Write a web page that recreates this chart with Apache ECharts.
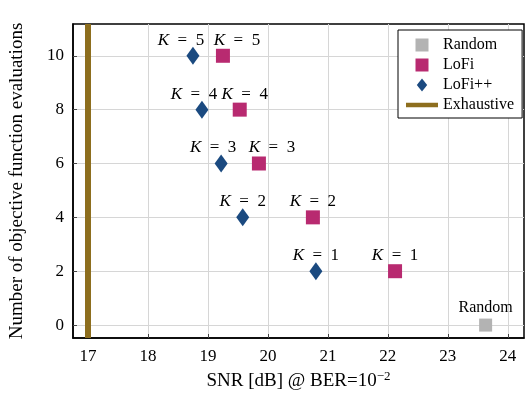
<!DOCTYPE html>
<html><head><meta charset="utf-8">
<script src="https://cdn.jsdelivr.net/npm/echarts@6/dist/echarts.min.js"></script>
<style>html,body{margin:0;padding:0;background:#fff}#c{width:532px;height:396px}</style>
</head><body><div id="c"></div>
<script>
// ---- data ----
const kValues = [1, 2, 3, 4, 5];
const evaluations = [2, 4, 6, 8, 10];
const lofiSNR = [22.12, 20.75, 19.85, 19.53, 19.25];
const lofippSNR = [20.8, 19.58, 19.22, 18.9, 18.75];
const randomSNR = [23.63];
const randomEvals = [0];
const exhaustiveSNR = 17;
const xTicks = [17, 18, 19, 20, 21, 22, 23, 24];
const yTicks = [0, 2, 4, 6, 8, 10];

// ---- label layout (horizontal nudges) ----
const lofiLabelDx = [0, 0, 13, 5, 14];
const lofippLabelDx = [0, 0, -8, -8, -12];

const FONT = 'Liberation Serif';
const C_LOFI = '#b82a70', C_LOFIPP = '#1b4a80', C_RAND = '#b3b3b3', C_EXH = '#8d6e1e';

const kRich = {
  k: { fontFamily: FONT, fontStyle: 'italic', fontSize: 17, color: '#000' },
  t: { fontFamily: FONT, fontSize: 17, color: '#000' }
};
function kLabel(p) { return '{k|K}{t|\u2002=\u2002' + p.value[2] + '}'; }

function build(xs, dxs) {
  return xs.map((x, i) => ({ value: [x, evaluations[i], kValues[i]], label: { offset: [dxs[i], 2] } }));
}

const chart = echarts.init(document.getElementById('c'), null, { renderer: 'canvas' });
chart.setOption({
  animation: false,
  backgroundColor: '#fff',
  grid: { left: 73, right: 8, top: 24, bottom: 55, show: true, borderColor: '#000', borderWidth: 1.5, backgroundColor: 'transparent' },
  legend: {
    orient: 'vertical', left: 398, top: 30,
    padding: [7, 8, 5, 8], itemWidth: 32, itemHeight: 13, itemGap: 4,
    borderColor: '#000', borderWidth: 1, backgroundColor: '#fff',
    textStyle: { fontFamily: FONT, fontSize: 16, lineHeight: 13, color: '#000' },
    symbolKeepAspect: true,
    data: [
      { name: 'Random', icon: 'path://M0,0h10v10h-10z', itemStyle: { opacity: 1 } },
      { name: 'LoFi', icon: 'path://M0,0h10v10h-10z', itemStyle: { opacity: 1 } },
      { name: 'LoFi++', icon: 'path://M6,0L12,7.5L6,15L0,7.5Z', itemStyle: { opacity: 1 } },
      { name: 'Exhaustive', icon: 'path://M0,0h32v4.5h-32z' }
    ]
  },
  xAxis: {
    type: 'value', min: 16.75, max: 24.27,
    name: 'SNR [dB] @ BER=10{s|\u22122}',
    nameLocation: 'middle', nameGap: 32,
    nameTextStyle: { fontFamily: FONT, fontSize: 19, color: '#000', rich: { s: { fontFamily: FONT, fontSize: 13, verticalAlign: 'bottom', padding: [0, 0, 10, 0], color: '#000' } } },
    axisLine: { show: true, onZero: false, lineStyle: { color: '#000', width: 1.5 } },
    axisTick: { show: true, inside: true, length: 4, customValues: xTicks, lineStyle: { color: '#444' } },
    axisLabel: { customValues: xTicks, margin: 10, fontFamily: FONT, fontSize: 17, color: '#000' },
    splitLine: { show: true, customValues: xTicks, lineStyle: { color: '#d6d6d6', width: 1 } }
  },
  yAxis: {
    type: 'value', min: -0.48, max: 11.18,
    name: 'Number of objective function evaluations',
    nameLocation: 'middle', nameGap: 46, nameRotate: 90,
    nameTextStyle: { fontFamily: FONT, fontSize: 19, color: '#000' },
    axisLine: { show: true, onZero: false, lineStyle: { color: '#000', width: 1.5 } },
    axisTick: { show: true, inside: true, length: 4, customValues: yTicks, lineStyle: { color: '#444' } },
    axisLabel: { customValues: yTicks, margin: 9, fontFamily: FONT, fontSize: 17, color: '#000' },
    splitLine: { show: true, customValues: yTicks, lineStyle: { color: '#d6d6d6', width: 1 } }
  },
  series: [
    {
      name: 'Exhaustive', type: 'line', data: [], color: C_EXH,
      lineStyle: { color: C_EXH, width: 5 },
      markLine: {
        silent: true, symbol: ['none', 'none'], label: { show: false },
        lineStyle: { color: C_EXH, width: 6, type: 'solid', opacity: 1 },
        data: [{ xAxis: exhaustiveSNR }]
      }
    },
    {
      name: 'Random', type: 'scatter', color: C_RAND, symbol: 'rect', symbolSize: 13,
      itemStyle: { color: C_RAND, opacity: 1 },
      data: randomSNR.map((x, i) => [x, randomEvals[i]]),
      label: { show: true, position: 'top', distance: 3, formatter: 'Random', fontFamily: FONT, fontSize: 16, color: '#000' }
    },
    {
      name: 'LoFi', type: 'scatter', color: C_LOFI, symbol: 'rect', symbolSize: 14,
      itemStyle: { color: C_LOFI, opacity: 1 },
      data: build(lofiSNR, lofiLabelDx),
      label: { show: true, position: 'top', distance: 2, formatter: kLabel, rich: kRich }
    },
    {
      name: 'LoFi++', type: 'scatter', color: C_LOFIPP, symbol: 'diamond', symbolSize: [13, 18],
      itemStyle: { color: C_LOFIPP, opacity: 1 },
      data: build(lofippSNR, lofippLabelDx),
      label: { show: true, position: 'top', distance: 0, formatter: kLabel, rich: kRich }
    }
  ]
});
</script>
</body></html>
